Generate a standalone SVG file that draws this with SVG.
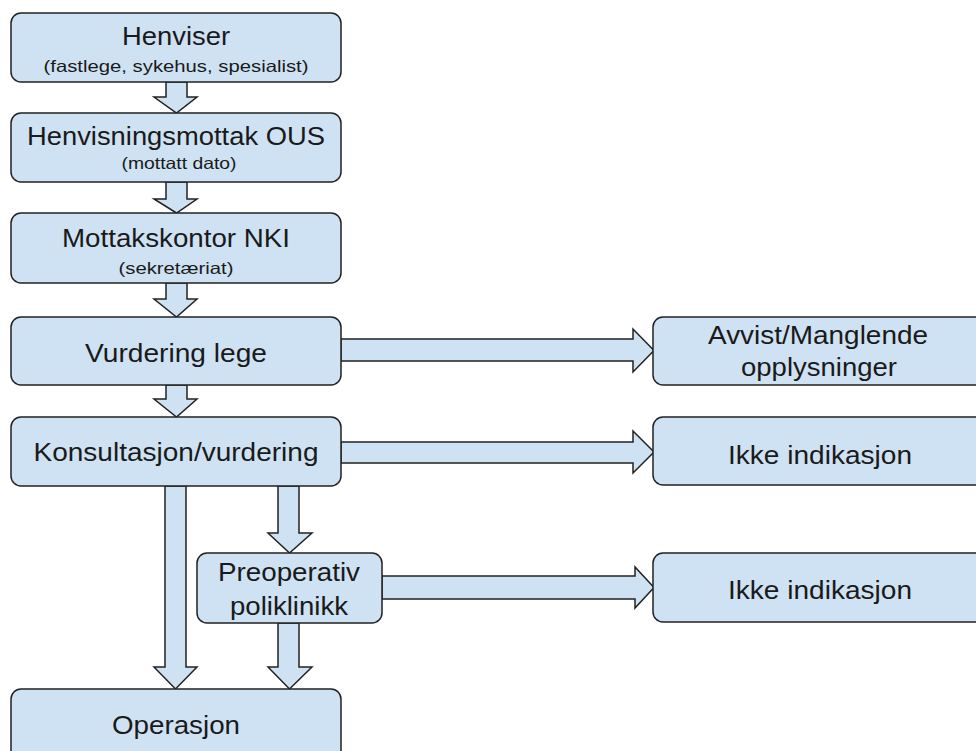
<svg xmlns="http://www.w3.org/2000/svg" width="976" height="751" viewBox="0 0 976 751">
<style>
.box{fill:#cfe2f3;stroke:#222;stroke-width:1.5}
.arr{fill:#cfe2f3;stroke:#222;stroke-width:1.5;stroke-linejoin:miter}
.t{font-family:"Liberation Sans",Arial,sans-serif;font-size:26px;fill:#1a1a1a;text-anchor:middle}
.s{font-family:"Liberation Sans",Arial,sans-serif;font-size:16.5px;fill:#1a1a1a;text-anchor:middle}
</style>
<rect width="976" height="751" fill="#fff"/>
<g id="connectors">
<polygon class="arr" points="166,82 187,82 187,97 197,97 176.5,113 154,97 166,97"/>
<polygon class="arr" points="166,182 187,182 187,199 197,199 176.5,213 154,199 166,199"/>
<polygon class="arr" points="166,283 187,283 187,299 197,299 176.5,317 154,299 166,299"/>
<polygon class="arr" points="166,385 187,385 187,399 197,399 176.5,417 154,399 166,399"/>
<polygon class="arr" points="165,486 186,486 186,667 197,667 175.5,689 154,667 165,667"/>
<polygon class="arr" points="278,486 299,486 299,533 312,533 289.5,553 268,533 278,533"/>
<polygon class="arr" points="278,623 299,623 299,667 312,667 289.5,689 268,667 278,667"/>
<polygon class="arr" points="341,339 633,339 633,329 654,350.5 633,372 633,361 341,361"/>
<polygon class="arr" points="341,442 633,442 633,431 654,452 633,473 633,463 341,463"/>
<polygon class="arr" points="382,576 635,576 635,567 654,587.5 635,608 635,599 382,599"/>
</g>
<g id="henviser">
<rect class="box" x="11" y="13" width="330" height="69" rx="10"/>
<text class="t" x="176" y="45" textLength="108" lengthAdjust="spacingAndGlyphs">Henviser</text>
<text class="s" x="176" y="72" textLength="265" lengthAdjust="spacingAndGlyphs">(fastlege, sykehus, spesialist)</text>
</g>
<g id="henvisningsmottak">
<rect class="box" x="11" y="113" width="330" height="69" rx="10"/>
<text class="t" x="176" y="145" textLength="298" lengthAdjust="spacingAndGlyphs">Henvisningsmottak OUS</text>
<text class="s" x="179" y="169" textLength="115" lengthAdjust="spacingAndGlyphs">(mottatt dato)</text>
</g>
<g id="mottakskontor">
<rect class="box" x="11" y="213" width="330" height="70" rx="10"/>
<text class="t" x="176" y="247" textLength="228" lengthAdjust="spacingAndGlyphs">Mottakskontor NKI</text>
<text class="s" x="176" y="274" textLength="115" lengthAdjust="spacingAndGlyphs">(sekretæriat)</text>
</g>
<g id="vurdering-lege">
<rect class="box" x="11" y="317" width="330" height="68" rx="10"/>
<text class="t" x="176" y="362" textLength="182" lengthAdjust="spacingAndGlyphs">Vurdering lege</text>
</g>
<g id="konsultasjon">
<rect class="box" x="11" y="417" width="330" height="69" rx="10"/>
<text class="t" x="176" y="461" textLength="285" lengthAdjust="spacingAndGlyphs">Konsultasjon/vurdering</text>
</g>
<g id="preoperativ">
<rect class="box" x="197" y="553" width="185" height="70" rx="10"/>
<text class="t" x="289" y="581" textLength="142" lengthAdjust="spacingAndGlyphs">Preoperativ</text>
<text class="t" x="289" y="615" textLength="118" lengthAdjust="spacingAndGlyphs">poliklinikk</text>
</g>
<g id="operasjon">
<rect class="box" x="11" y="689" width="330" height="80" rx="10"/>
<text class="t" x="176" y="734" textLength="128" lengthAdjust="spacingAndGlyphs">Operasjon</text>
</g>
<g id="avvist">
<rect class="box" x="653" y="317" width="340" height="68" rx="10"/>
<text class="t" x="818" y="344" textLength="220" lengthAdjust="spacingAndGlyphs">Avvist/Manglende</text>
<text class="t" x="819" y="376" textLength="156" lengthAdjust="spacingAndGlyphs">opplysninger</text>
</g>
<g id="ikke-indikasjon-1">
<rect class="box" x="653" y="417" width="340" height="68" rx="10"/>
<text class="t" x="820" y="464" textLength="184" lengthAdjust="spacingAndGlyphs">Ikke indikasjon</text>
</g>
<g id="ikke-indikasjon-2">
<rect class="box" x="653" y="553" width="340" height="69" rx="10"/>
<text class="t" x="820" y="599" textLength="184" lengthAdjust="spacingAndGlyphs">Ikke indikasjon</text>
</g>
</svg>
